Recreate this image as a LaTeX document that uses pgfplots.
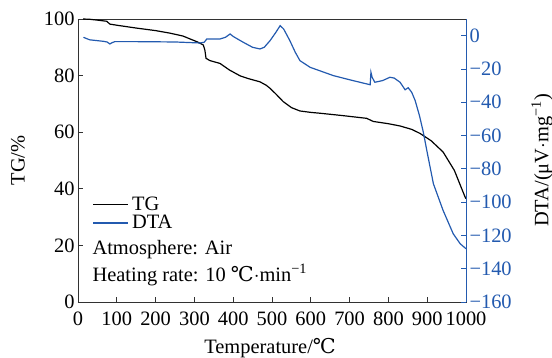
\documentclass[border=0pt]{standalone}
\usepackage{pgfplots}
\pgfplotsset{compat=1.18}
\usetikzlibrary{calc}
\usepackage{fontspec}
\setmainfont{Liberation Serif}
\newfontfamily\dejavu{DejaVu Serif}
\definecolor{dtablue}{RGB}{35,90,175}
\definecolor{axgray}{RGB}{50,50,50}
\newcommand{\degC}{{\dejavu ℃}}
\newcommand{\fs}{\fontsize{20.5}{23}\selectfont\rmfamily}
\pgfplotstableread{
T TG
13 100
30 99.9
50 99.6
74 99.2
82 98.2
100 97.8
150 96.8
200 95.9
237 95.0
270 94.0
306 92.0
318 91.2
323 90.8
327 89.0
330 86.1
340 85.3
366 84.3
390 82.0
418 79.9
440 78.9
469 77.8
485 76.6
495 75.5
510 73.5
529 70.8
550 68.7
572 67.5
600 67.0
624 66.7
680 65.9
744 64.9
761 63.8
800 63.0
830 62.2
860 61.0
881 59.6
910 57.0
941 53.0
970 46.5
997 37.3
1000 36.5
}\tgdata
\pgfplotstableread{
T DTA
14 -1
30 -2.5
65 -3.4
75 -3.8
82 -5
88 -4.2
95 -3.6
150 -3.6
250 -3.8
314 -4.4
325 -4
332 -2
366 -2
380 -1
392 1
400 -0.5
426 -4
450 -7
469 -8
480 -7
495 -3
510 2
521 6
530 4
546 -3
560 -10
572 -15
598 -19
658 -24
700 -26.5
753 -29.5
755 -22
758 -25
765 -28
785 -27
804 -25
815 -25.5
830 -28
843 -32.5
851 -31.3
860 -34
869 -39
880 -48
890 -58
899 -69
916 -89
941 -105
967 -119
985 -125
1000 -128
}\dtadata
\begin{document}
\begin{tikzpicture}[font=\fs]
\begin{axis}[
  name=ax,
  width=388bp, height=283bp, scale only axis,
  xmin=0, xmax=1000, ymin=0, ymax=100,
  xtick={0,100,...,1000}, ytick={0,20,...,100},
  xticklabels={0,100,200,300,400,500,600,700,800,900,1000},
  yticklabels={0,20,40,60,80,100},
  xtick pos=bottom, ytick pos=left,
  tick align=inside, major tick length=5bp,
  axis line style={draw=axgray, line width=0.8pt},
  tick style={draw=axgray, line width=0.8pt},
  tick label style={font=\fs},
  xticklabel style={yshift=-6bp},
  label style={font=\fs},
  xlabel={Temperature/\degC},
  ylabel={TG/\%},
  every axis x label/.style={at={(axis description cs:0.495,-0.163)}, anchor=center},
  every axis y label/.style={at={(axis description cs:-0.155,0.5)}, rotate=90, anchor=center},
]
\addplot[black, line width=1.2pt] table[x=T, y=TG] {\tgdata};
% legend keys
\draw[black, line width=1.2pt] (rel axis cs:0.0387,0.345) -- (rel axis cs:0.129,0.345);
\draw[dtablue, line width=1.2pt] (rel axis cs:0.0387,0.279) -- (rel axis cs:0.129,0.279);
\node[anchor=west, inner sep=0pt] at (rel axis cs:0.139,0.347) {TG};
\node[anchor=west, inner sep=0pt] at (rel axis cs:0.139,0.282) {DTA};
\node[anchor=west, inner sep=0pt] at (rel axis cs:0.037,0.184) {Atmosphere: Air};
\node[anchor=west, inner sep=0pt] at (rel axis cs:0.037,0.095) {Heating rate: 10 \degC$\cdot$min\textsuperscript{−1}};
\end{axis}
\begin{axis}[
  width=388bp, height=283bp, scale only axis,
  xmin=0, xmax=1000, ymin=-160, ymax=10,
  axis x line=none, axis y line*=right,
  ytick={-160,-140,...,0},
  yticklabels={−160,−140,−120,−100,−80,−60,−40,−20,0},
  tick align=inside, major tick length=5bp,
  y axis line style={draw=dtablue, line width=0.8pt},
  ytick style={draw=dtablue, line width=0.8pt},
  yticklabel style={text=dtablue, font=\fs},
  label style={font=\fs},
  ylabel={DTA/(μV$\cdot$mg\textsuperscript{−1})},
  every axis y label/.style={at={(axis description cs:1.196,0.5)}, rotate=90, anchor=center},
]
\addplot[dtablue, line width=1.2pt] table[x=T, y=DTA] {\dtadata};
\end{axis}
\pgfresetboundingbox
\path[use as bounding box] ($(ax.south west)+(-78bp,-56bp)$) rectangle ($(ax.north east)+(86bp,19bp)$);
\end{tikzpicture}
\end{document}
